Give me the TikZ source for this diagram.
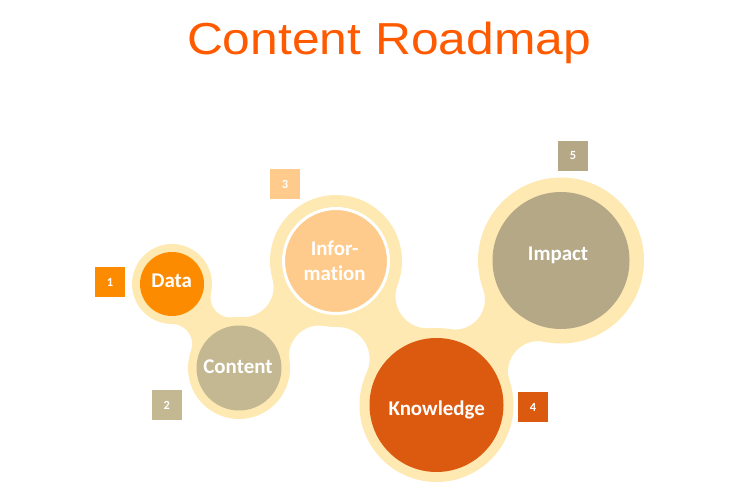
\documentclass[tikz,border=0pt]{standalone}
\usepackage{fontspec}
\setmainfont{Liberation Sans}
\newfontfamily\labelfont[Ligatures=NoCommon]{Carlito}
\usetikzlibrary{intersections}

\definecolor{cream}{HTML}{FEE9B2}
\definecolor{dataorange}{HTML}{FD8B00}
\definecolor{contentkhaki}{HTML}{C3B891}
\definecolor{infopeach}{HTML}{FECB8C}
\definecolor{knowledgerust}{HTML}{DC5A10}
\definecolor{impacttaupe}{HTML}{B5A886}
\definecolor{titleorange}{HTML}{FF5A00}

\tikzset{
  bubble/.style={circle,inner sep=0pt,draw=none},
  bubbletext/.style={anchor=base,text=white,font=\labelfont\bfseries\fontsize{21}{25.2}\selectfont},
  numbox/.style={rectangle,inner sep=0pt,minimum size=30bp,text=white,font=\labelfont\bfseries\fontsize{12.5}{14}\selectfont},
}

\begin{document}
\begin{tikzpicture}
\useasboundingbox (0bp,0bp) rectangle (751bp,501bp);
%%
\coordinate (p-data) at (172bp,217bp);
\coordinate (p-content) at (239bp,133bp);
\coordinate (p-info) at (336bp,240bp);
\coordinate (p-knowledge) at (436.5bp,96bp);
\coordinate (p-impact) at (561bp,240.5bp);
% necks between the rings
\foreach \a/\b/\ra/\rb/\rf in {data/content/40/51/20,content/info/51/66/30,info/knowledge/66/77/32,knowledge/impact/77/83/30}{
  \path[name path=neck-a] (p-\a) circle ({(\ra+\rf)*1bp});
  \path[name path=neck-b] (p-\b) circle ({(\rb+\rf)*1bp});
  \path[name intersections={of=neck-a and neck-b,by={f-1,f-2}}];
  \begin{scope}[even odd rule]
    \clip (0bp,0bp) rectangle (751bp,501bp) (f-1) circle ({\rf*1bp}) (f-2) circle ({\rf*1bp});
    \fill[cream] (p-\a) -- (f-1) -- (p-\b) -- (f-2) -- cycle;
  \end{scope}
}
\foreach \n/\r in {data/40,content/51,info/66,knowledge/77,impact/83}
  \fill[cream] (p-\n) circle ({\r*1bp});
%
\node[bubble,fill=dataorange,minimum size=64bp] (data) at (p-data) {};
\node[bubble,fill=contentkhaki,minimum size=85bp] (content) at (p-content) {};
\node[bubble,fill=infopeach,draw=white,line width=3bp,minimum size=105bp] (info) at (p-info) {};
\node[bubble,fill=knowledgerust,minimum size=134bp] (knowledge) at (p-knowledge) {};
\node[bubble,fill=impacttaupe,minimum size=137bp] (impact) at (p-impact) {};
%
\node[bubbletext] (data-text) at (171.7bp,213.3bp) {Data};
\node[bubbletext] (content-text) at (238bp,127.7bp) {Content};
\node[bubbletext,anchor=center,align=center] (info-text) at (334.6bp,240bp) {Infor-\\mation};
\node[bubbletext] (knowledge-text) at (436.7bp,85bp) {Knowledge};
\node[bubbletext] (impact-text) at (558bp,240.3bp) {Impact};
%
\node[numbox,fill=dataorange] (num-1) at (110bp,219bp) {1};
\node[numbox,fill=contentkhaki] (num-2) at (166.7bp,96bp) {2};
\node[numbox,fill=infopeach] (num-3) at (285bp,316.5bp) {3};
\node[numbox,fill=knowledgerust] (num-4) at (533bp,94bp) {4};
\node[numbox,fill=impacttaupe] (num-5) at (573bp,345bp) {5};
%
\node[anchor=base,text=titleorange,font=\fontsize{45}{54}\selectfont] (title) at (389bp,446bp) {\scalebox{1.11}[1]{Content Roadmap}};
\end{tikzpicture}
\end{document}
